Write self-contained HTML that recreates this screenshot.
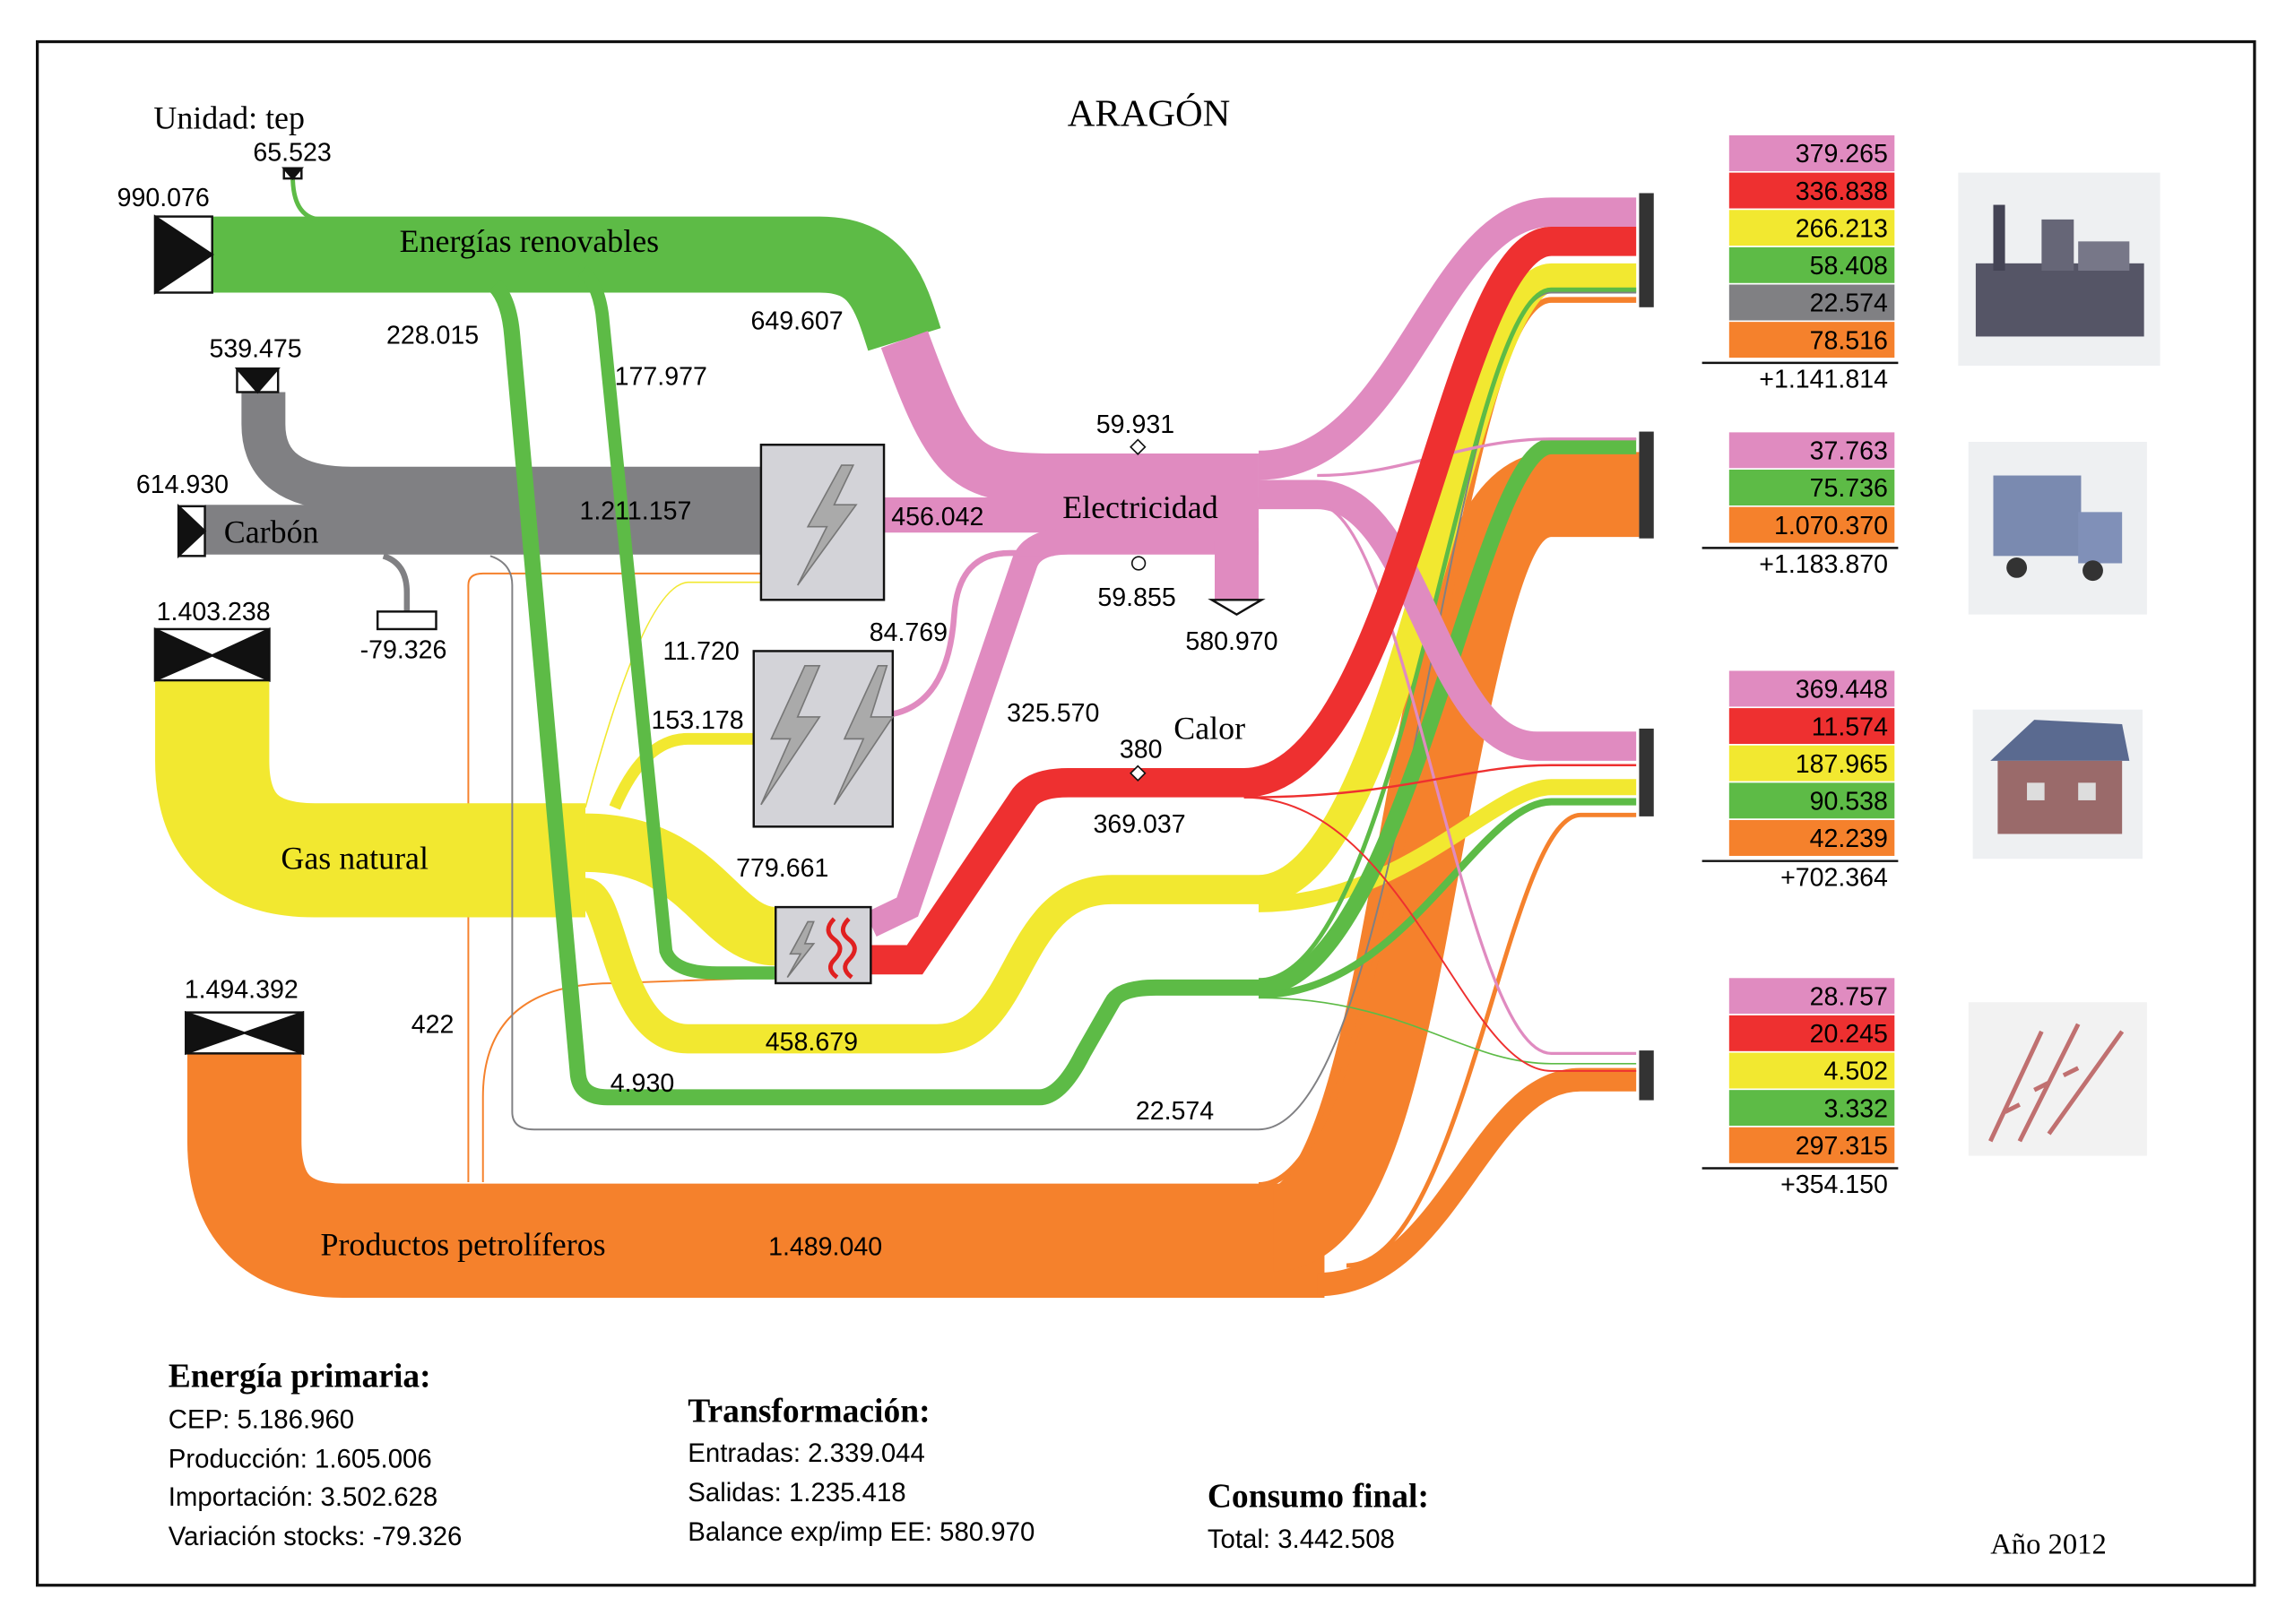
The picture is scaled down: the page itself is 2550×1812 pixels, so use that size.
<!DOCTYPE html>
<html><head><meta charset="utf-8"><style>
html,body{margin:0;padding:0;background:#fff}
svg{display:block}
.s{font-family:"Liberation Serif",serif}
.a{font-family:"Liberation Sans",sans-serif}
</style></head><body>
<svg id="chart" width="2550" height="1812" viewBox="0 0 1562 1110" preserveAspectRatio="none" xmlns="http://www.w3.org/2000/svg">
<rect x="0" y="0" width="1562" height="1110" fill="#fff"/>
<rect x="25.5" y="28.5" width="1515" height="1055" fill="none" stroke="#111" stroke-width="2"/>
<text class="s" x="785" y="86" font-size="26" text-anchor="middle">ARAGÓN</text>
<text class="s" x="105" y="88" font-size="22">Unidad: tep</text>

<g fill="none" stroke-linecap="butt">
<!-- orange flows -->
<path d="M167,720 L167,780 Q167,848 235,848 L905,848" stroke="#f5812c" stroke-width="78"/>
<path d="M870,840 C975,840 965,338 1060,338 L1120,338" stroke="#f5812c" stroke-width="58"/>
<path d="M900,878 C990,878 1010,738 1080,738 L1118,738" stroke="#f5812c" stroke-width="16"/>
<path d="M860,810 C960,810 990,205 1060,205 L1118,205" stroke="#f5812c" stroke-width="4"/>
<path d="M920,865 C1000,865 1030,557 1080,557 L1118,557" stroke="#f5812c" stroke-width="3"/>
<path d="M320,808 L320,400 Q320,392 330,392 L520,392" stroke="#f5812c" stroke-width="1.2"/>
<path d="M330,808 L330,750 Q330,672 420,672 L530,668" stroke="#f5812c" stroke-width="1.2"/>
<!-- yellow -->
<path d="M145,465 L145,520 Q145,588 215,588 L400,588" stroke="#f2e830" stroke-width="78"/>
<path d="M400,576 C480,576 490,640 530,640" stroke="#f2e830" stroke-width="40"/>
<path d="M400,610 C420,610 420,710 470,710 L640,710 C700,710 690,608 760,608 L860,608 C960,608 1000,190 1060,190 L1118,190" stroke="#f2e830" stroke-width="20"/>
<path d="M860,618 C960,618 1020,538 1060,538 L1118,538" stroke="#f2e830" stroke-width="11"/>
<path d="M420,552 Q440,505 470,505 L515,505" stroke="#f2e830" stroke-width="8"/>
<path d="M400,552 Q440,400 470,398 L520,398" stroke="#f2e830" stroke-width="1"/>
<!-- grey -->
<path d="M180,268 L180,290 Q180,334 240,334 L520,334" stroke="#808083" stroke-width="30"/>
<path d="M140,362 L520,362" stroke="#808083" stroke-width="34"/>
<path d="M262,380 Q278,385 278,405 L278,418" stroke="#808083" stroke-width="4"/>
<path d="M335,380 Q350,385 350,400 L350,760 Q350,772 365,772 L860,772 C960,772 990,200 1060,200 L1118,200" stroke="#808083" stroke-width="1.2"/>
<!-- green -->
<path d="M145,174 L560,174 C600,174 608,200 618,232" stroke="#5dbb46" stroke-width="52"/>
<path d="M200,120 Q200,148 218,150" stroke="#5dbb46" stroke-width="3"/>
<path d="M338,195 Q348,205 350,230 L395,735 Q397,750 415,750 L710,750 Q725,750 740,720 L760,685 Q765,675 790,675 L860,675 C960,675 1010,305 1060,305 L1118,305" stroke="#5dbb46" stroke-width="11"/>
<path d="M398,185 Q410,195 412,220 L455,650 Q460,665 490,665 L530,665" stroke="#5dbb46" stroke-width="9"/>
<path d="M860,680 C960,680 1010,548 1060,548 L1118,548" stroke="#5dbb46" stroke-width="5"/>
<path d="M860,670 C960,670 1000,198 1060,198 L1118,198" stroke="#5dbb46" stroke-width="3"/>
<path d="M860,682 C960,682 1000,727 1060,727 L1118,727" stroke="#5dbb46" stroke-width="1"/>
<!-- pink -->
<path d="M618,232 C650,320 660,327 720,327 L860,327" stroke="#e08bc0" stroke-width="34"/>
<path d="M604,352 L860,352" stroke="#e08bc0" stroke-width="24"/>
<path d="M595,632 L620,620 L700,385 Q705,370 730,370 L860,370" stroke="#e08bc0" stroke-width="18"/>
<path d="M610,488 Q648,480 652,420 Q655,378 690,378 L720,378" stroke="#e08bc0" stroke-width="4"/>
<path d="M845,370 L845,410" stroke="#e08bc0" stroke-width="30"/>
<path d="M860,318 C960,318 980,145 1060,145 L1118,145" stroke="#e08bc0" stroke-width="20"/>
<path d="M860,338 L900,338 C970,338 980,510 1050,510 L1118,510" stroke="#e08bc0" stroke-width="20"/>
<path d="M900,325 C960,325 1000,300 1060,300 L1118,300" stroke="#e08bc0" stroke-width="2"/>
<path d="M900,345 C960,345 1000,720 1060,720 L1118,720" stroke="#e08bc0" stroke-width="2"/>
<!-- red -->
<path d="M595,656 L625,656 L700,545 Q708,535 730,535 L850,535 C960,535 990,165 1060,165 L1118,165" stroke="#ee3030" stroke-width="20"/>
<path d="M850,545 C960,545 1000,523 1060,523 L1118,523" stroke="#ee3030" stroke-width="1.5"/>
<path d="M850,545 C960,545 1000,732 1060,732 L1118,732" stroke="#ee3030" stroke-width="1.2"/>
</g>

<!-- nodes -->
<g stroke="#111" stroke-width="1.5">
<rect x="106" y="148" width="39" height="52" fill="#fff"/>
<polygon points="106,148 145,174 106,200" fill="#111"/>
<rect x="194" y="115" width="12" height="7" fill="#fff"/><polygon points="194,115 206,115 200,122" fill="#111"/>
<rect x="162" y="252" width="28" height="16" fill="#fff"/>
<polygon points="162,252 190,252 176,268" fill="#111"/>
<rect x="122" y="346" width="18" height="34" fill="#fff"/>
<polygon points="122,346 140,363 122,380" fill="#111"/>
<rect x="258" y="418" width="40" height="12" fill="#fff"/>
<rect x="106" y="430" width="78" height="35" fill="#fff"/>
<polygon points="106,430 145,448 184,430 184,465 145,448 106,465" fill="#111"/>
<rect x="127" y="692" width="80" height="28" fill="#fff"/>
<polygon points="127,692 167,706 207,692 207,720 167,706 127,720" fill="#111"/>
<rect x="520" y="304" width="84" height="106" fill="#d3d3d8"/>
<rect x="515" y="445" width="95" height="120" fill="#d3d3d8"/>
<rect x="530" y="620" width="65" height="52" fill="#d3d3d8"/>
<polygon points="828,410 862,410 845,420" fill="#fff"/>
<circle cx="778" cy="385" r="4.5" fill="#fff" stroke-width="1"/>
<rect x="774" y="302" width="7" height="7" transform="rotate(45 777.5 305.5)" fill="#fff" stroke-width="1"/>
<rect x="774" y="525" width="7" height="7" transform="rotate(45 777.5 528.5)" fill="#fff" stroke-width="1"/>
</g>
<g fill="#aaa" stroke="#777" stroke-width="1">
<polygon points="575,318 552,360 565,360 545,400 585,345 570,345 583,318"/>
<polygon points="550,455 527,505 540,505 520,550 560,490 545,490 560,455"/>
<polygon points="600,455 577,505 590,505 570,550 610,490 595,490 606,455"/>
<polygon points="552,630 540,652 547,652 538,668 556,645 550,645 556,630"/>
</g>
<path d="M570,628 q-8,8 0,14 q8,6 0,14 q-6,6 2,12 M580,628 q-8,8 0,14 q8,6 0,14 q-6,6 2,12" stroke="#e02020" stroke-width="3" fill="none"/>
<g fill="#333">
<rect x="1120" y="132" width="10" height="78"/><rect x="1120" y="295" width="10" height="73"/>
<rect x="1120" y="498" width="10" height="60"/><rect x="1120" y="718" width="10" height="34"/>
</g>

<!-- labels -->
<g class="s" font-size="22">
<text x="273" y="172">Energías renovables</text>
<text x="153" y="371">Carbón</text>
<text x="192" y="594">Gas natural</text>
<text x="219" y="858">Productos petrolíferos</text>
<text x="726" y="354">Electricidad</text>
<text x="802" y="505">Calor</text>
</g>
<g class="a" font-size="17.5">
<text x="80" y="141">990.076</text><text x="173" y="110">65.523</text>
<text x="264" y="235">228.015</text><text x="420" y="263">177.977</text><text x="513" y="225">649.607</text>
<text x="143" y="244">539.475</text><text x="93" y="337">614.930</text><text x="396" y="355">1.211.157</text>
<text x="246" y="450">-79.326</text><text x="609" y="359">456.042</text>
<text x="749" y="296">59.931</text><text x="750" y="414">59.855</text><text x="810" y="444">580.970</text>
<text x="107" y="424">1.403.238</text><text x="453" y="451">11.720</text><text x="594" y="438">84.769</text>
<text x="445" y="498">153.178</text><text x="688" y="493">325.570</text><text x="765" y="518">380</text>
<text x="747" y="569">369.037</text><text x="503" y="599">779.661</text>
<text x="126" y="682">1.494.392</text><text x="281" y="706">422</text><text x="523" y="718">458.679</text>
<text x="417" y="746">4.930</text><text x="776" y="765">22.574</text><text x="525" y="858">1.489.040</text>
</g>

<g id="tables"></g>

<!-- icons -->
<g><rect x="1338" y="118" width="138" height="132" fill="#eef0f2"/>
<rect x="1350" y="180" width="115" height="50" fill="#556"/><rect x="1362" y="140" width="8" height="45" fill="#445"/><rect x="1395" y="150" width="22" height="35" fill="#667"/><rect x="1420" y="165" width="35" height="20" fill="#778"/></g>
<g><rect x="1345" y="302" width="122" height="118" fill="#eef0f2"/>
<rect x="1362" y="325" width="60" height="55" fill="#7a8ab0"/><rect x="1420" y="350" width="30" height="35" fill="#8090b8"/><circle cx="1378" cy="388" r="7" fill="#333"/><circle cx="1430" cy="390" r="7" fill="#333"/></g>
<g><rect x="1348" y="485" width="116" height="102" fill="#eef0f2"/>
<polygon points="1360,520 1390,492 1450,495 1455,520" fill="#5a6a90"/><rect x="1365" y="520" width="85" height="50" fill="#9a6a6a"/><rect x="1385" y="535" width="12" height="12" fill="#ddd"/><rect x="1420" y="535" width="12" height="12" fill="#ddd"/></g>
<g><rect x="1345" y="685" width="122" height="105" fill="#f2f2f2"/>
<path d="M1360,780 L1395,705 M1380,780 L1420,700 M1400,775 L1450,705 M1370,760 l10,-5 M1390,745 l10,-5 M1410,735 l10,-5" stroke="#c07070" stroke-width="3"/></g>

<!-- footer -->
<g class="s" font-size="23" font-weight="bold">
<text x="115" y="948">Energía primaria:</text>
<text x="470" y="972">Transformación:</text>
<text x="825" y="1030">Consumo final:</text>
</g>
<g class="a" font-size="18">
<text x="115" y="976">CEP: 5.186.960</text><text x="115" y="1003">Producción: 1.605.006</text>
<text x="115" y="1029">Importación: 3.502.628</text><text x="115" y="1056">Variación stocks: -79.326</text>
<text x="470" y="999">Entradas: 2.339.044</text><text x="470" y="1026">Salidas: 1.235.418</text>
<text x="470" y="1053">Balance exp/imp EE: 580.970</text><text x="825" y="1058">Total: 3.442.508</text>
</g>
<text class="s" x="1360" y="1062" font-size="20">Año 2012</text>
</svg>
<script>
const sectorNames = ["industria", "transporte", "residencial", "agricultura"];
const industryValues = ["379.265","336.838","266.213","58.408","22.574","78.516"];
const industryColors = ["#e08bc0","#ee3030","#f2e830","#5dbb46","#808083","#f5812c"];
const transportValues = ["37.763","75.736","1.070.370"];
const transportColors = ["#e08bc0","#5dbb46","#f5812c"];
const houseValues = ["369.448","11.574","187.965","90.538","42.239"];
const houseColors = ["#e08bc0","#ee3030","#f2e830","#5dbb46","#f5812c"];
const agriValues = ["28.757","20.245","4.502","3.332","297.315"];
const agriColors = ["#e08bc0","#ee3030","#f2e830","#5dbb46","#f5812c"];
const totals = ["+1.141.814","+1.183.870","+702.364","+354.150"];
const tableTops = [92, 295, 458, 668];
const NS = "http://www.w3.org/2000/svg";
const g = document.getElementById("tables");
const sets = [[industryValues,industryColors],[transportValues,transportColors],[houseValues,houseColors],[agriValues,agriColors]];
sets.forEach((s, k) => {
  const top = tableTops[k];
  const rowH = 25.5;
  s[0].forEach((v, i) => {
    const r = document.createElementNS(NS, "rect");
    r.setAttribute("x", 1181); r.setAttribute("y", top + i*rowH);
    r.setAttribute("width", 114); r.setAttribute("height", rowH);
    r.setAttribute("fill", s[1][i]); r.setAttribute("stroke", "#fff"); r.setAttribute("stroke-width", "1");
    
    
    g.appendChild(r);
    const t = document.createElementNS(NS, "text");
    t.setAttribute("x", 1290); t.setAttribute("y", top + i*rowH + 19);
    t.setAttribute("text-anchor", "end"); t.setAttribute("class", "a"); t.setAttribute("font-size", "17.5");
    t.textContent = v;
    
    
    g.appendChild(t);
  });
  const yb = top + s[0].length*rowH + 3;
  const l = document.createElementNS(NS, "line");
  l.setAttribute("x1", 1163); l.setAttribute("x2", 1297); l.setAttribute("y1", yb); l.setAttribute("y2", yb);
  l.setAttribute("stroke", "#111"); l.setAttribute("stroke-width", "1.5");
  
  
  g.appendChild(l);
  const tt = document.createElementNS(NS, "text");
  tt.setAttribute("x", 1290); tt.setAttribute("y", yb + 17);
  tt.setAttribute("text-anchor", "end"); tt.setAttribute("class", "a"); tt.setAttribute("font-size", "17.5");
  tt.textContent = totals[k];
  
  
  g.appendChild(tt);
});
</script>
</body></html>
